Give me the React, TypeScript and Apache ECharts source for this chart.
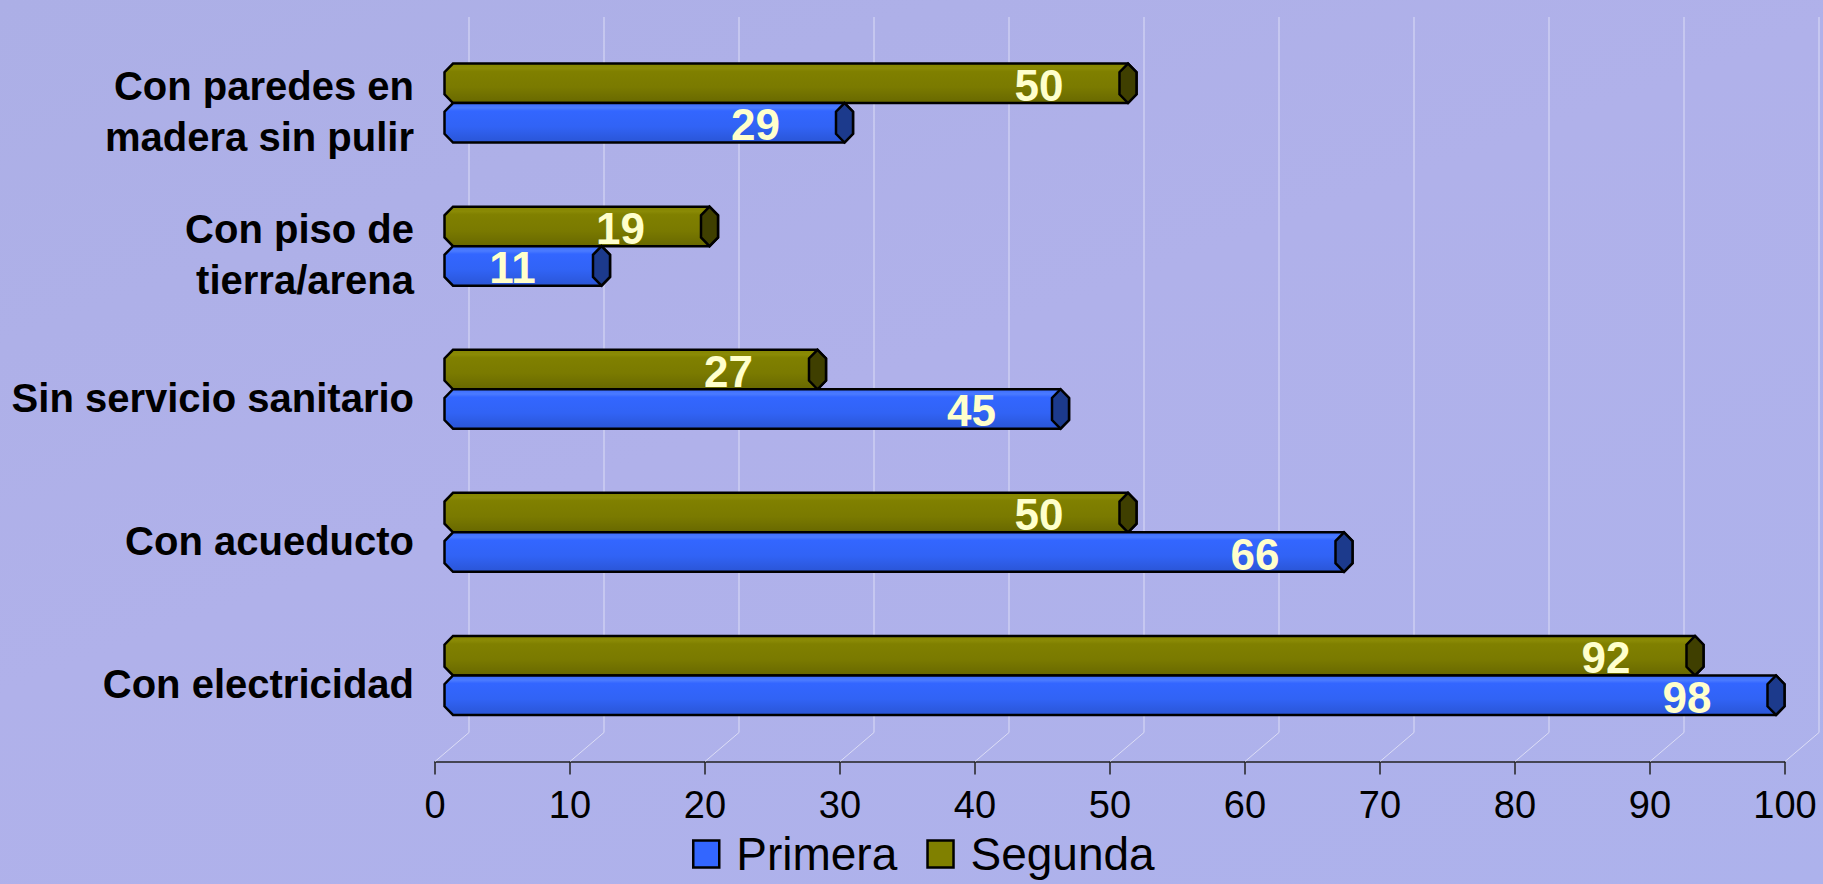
import React, { useEffect, useRef } from "react";
import * as echarts from "echarts";

const categories = [
  "Con paredes en\nmadera sin pulir",
  "Con piso de\ntierra/arena",
  "Sin servicio sanitario",
  "Con acueducto",
  "Con electricidad",
];
const primera = [29, 11, 45, 66, 98];
const segunda = [50, 19, 27, 50, 92];
const tickValues = [0, 10, 20, 30, 40, 50, 60, 70, 80, 90, 100];

const DEPTH_X = 34;
const DEPTH_Y = 29;
const FONT = "'Liberation Sans', Arial, sans-serif";

const palettes: Record<string, { stops: string[]; cap: string }> = {
  Primera: { stops: ["#3A6BFF", "#4B7BFF", "#3366FF", "#3163F5", "#2A55D6"], cap: "#1C3A8C" },
  Segunda: { stops: ["#858500", "#8A8A05", "#808000", "#7A7A00", "#686800"], cap: "#3F3F00" },
};

function makeBarRender(name: string, lower: boolean) {
  const pal = palettes[name];
  return (params: any, api: any) => {
    const val = api.value(0);
    const idx = api.value(1);
    const start = api.coord([0, idx]);
    const end = api.coord([val, idx]);
    const band = api.size([0, 1])[1];
    const h = band * 0.276;
    const midX = DEPTH_X / 2;
    const midY = DEPTH_Y / 2;
    const cy = end[1] - midY + (lower ? h / 2 : -h / 2);
    const top = cy - h / 2;
    const bot = cy + h / 2;
    const x0 = start[0] + midX + 1;
    const x1 = end[0] + midX + 1;
    const rx = 8.5;
    const k = h * 0.22;
    const grad = new echarts.graphic.LinearGradient(0, 0, 0, 1, [
      { offset: 0, color: pal.stops[0] },
      { offset: 0.12, color: pal.stops[1] },
      { offset: 0.2, color: pal.stops[2] },
      { offset: 0.6, color: pal.stops[3] },
      { offset: 1, color: pal.stops[4] },
    ]);
    return {
      type: "group",
      children: [
        {
          type: "polygon",
          shape: {
            points: [
              [x0, top], [x1, top], [x1 + rx, top + k], [x1 + rx, bot - k],
              [x1, bot], [x0, bot], [x0 - rx, bot - k], [x0 - rx, top + k],
            ],
          },
          style: { fill: grad, stroke: "#000", lineWidth: 2.5 },
        },
        {
          type: "polygon",
          shape: {
            points: [
              [x1, top], [x1 + rx, top + k], [x1 + rx, bot - k], [x1, bot],
              [x1 - rx, bot - k], [x1 - rx, top + k],
            ],
          },
          style: { fill: pal.cap, stroke: "#000", lineWidth: 2.5 },
        },
        {
          type: "text",
          style: {
            text: String(val),
            x: x1 - 89,
            y: cy + 2,
            align: "center",
            verticalAlign: "middle",
            fill: "#FFFFCC",
            fontSize: 44,
            fontWeight: "bold",
            fontFamily: FONT,
          },
        },
      ],
    };
  };
}

function gridRender(params: any, api: any) {
  const v = api.value(0);
  const p = api.coord([v, 0]);
  const cs = params.coordSys;
  const frontBottom = cs.y + cs.height;
  return {
    type: "polyline",
    shape: {
      points: [
        [p[0] + DEPTH_X, cs.y - DEPTH_Y],
        [p[0] + DEPTH_X, frontBottom - DEPTH_Y],
        [p[0], frontBottom],
      ],
    },
    style: { stroke: "#DCDDF6", lineWidth: 1, fill: "none" },
  };
}

export default function App() {
  const ref = useRef<HTMLDivElement>(null);
  useEffect(() => {
    document.body.style.margin = "0";
    if (!ref.current) return;
    const chart = echarts.init(ref.current, null, { renderer: "svg" });
    chart.setOption({
      animation: false,
      backgroundColor: "transparent",
      textStyle: { fontFamily: FONT },
      grid: { left: 435, right: 38, top: 46, bottom: 122.5, containLabel: false },
      xAxis: {
        type: "value",
        min: 0,
        max: 100,
        interval: 10,
        axisLine: { show: true, lineStyle: { color: "#222", width: 1.5 } },
        axisTick: { show: true, length: 13, lineStyle: { color: "#222", width: 1.5 } },
        splitLine: { show: false },
        axisLabel: { fontSize: 38, color: "#000", margin: 24, fontFamily: FONT },
      },
      yAxis: {
        type: "category",
        data: categories,
        inverse: true,
        axisLine: { show: false },
        axisTick: { show: false },
        splitLine: { show: false },
        axisLabel: {
          margin: 21,
          align: "right",
          formatter: (v: string) =>
            v.split("\n").map((s) => `{l|${s}}`).join("\n") + "\n{s| }",
          rich: {
            l: {
              fontSize: 40,
              fontWeight: "bold",
              color: "#000",
              lineHeight: 51,
              fontFamily: FONT,
              align: "right",
            },
            s: { fontSize: 4, lineHeight: 12, align: "right" },
          },
        },
      },
      legend: {
        data: ["Primera", "Segunda"],
        left: 687,
        bottom: 2,
        icon: "rect",
        itemWidth: 26,
        itemHeight: 27,
        itemGap: 29,
        itemStyle: { borderColor: "#000", borderWidth: 2.5 },
        textStyle: { fontSize: 46, color: "#000", fontFamily: FONT, padding: [0, 0, 0, 12] },
      },
      series: [
        {
          type: "custom",
          silent: true,
          z: 1,
          data: tickValues.map((v) => [v]),
          renderItem: gridRender,
        },
        {
          type: "custom",
          name: "Primera",
          z: 3,
          itemStyle: { color: "#3366FF" },
          data: primera.map((v, i) => [v, i]),
          encode: { x: 0, y: 1 },
          renderItem: makeBarRender("Primera", true),
        },
        {
          type: "custom",
          name: "Segunda",
          z: 2,
          itemStyle: { color: "#808000" },
          data: segunda.map((v, i) => [v, i]),
          encode: { x: 0, y: 1 },
          renderItem: makeBarRender("Segunda", false),
        },
      ],
    });
    return () => chart.dispose();
  }, []);
  return (
    <div
      ref={ref}
      style={{
        width: 1823,
        height: 884,
        background: "linear-gradient(160deg, #ACAFE6 0%, #B0B1EA 45%, #ADB2EC 100%)",
      }}
    />
  );
}
